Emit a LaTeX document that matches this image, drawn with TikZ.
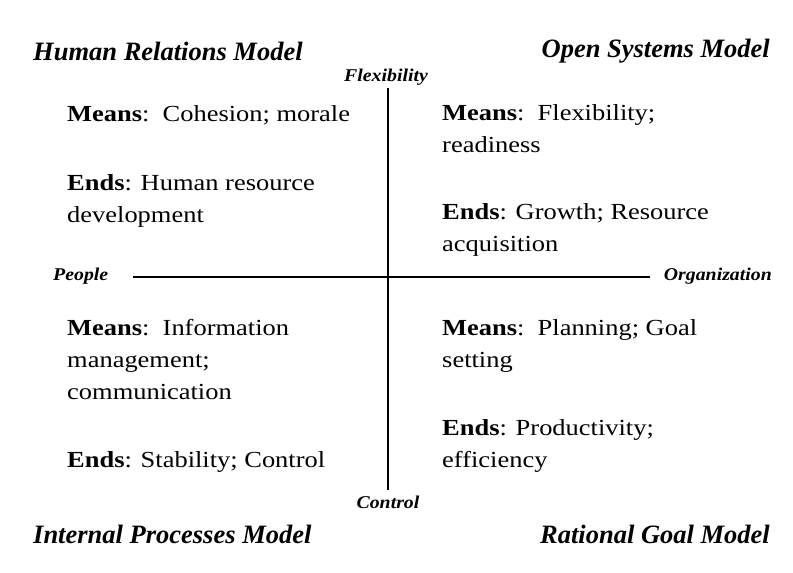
\documentclass[tikz,border=0pt]{standalone}
\usepackage{fontspec}
\setmainfont{Liberation Serif}
\begin{document}
\begin{tikzpicture}[x=1pt,y=-1pt,
  modeltitle/.style={font=\fontsize{26.5}{30}\selectfont\bfseries\itshape, inner sep=0},
  quadtext/.style={font=\fontsize{23}{32}\selectfont, align=left, inner sep=0, anchor=north west, xscale=1.15},
  axislabel/.style={font=\fontsize{18}{20}\selectfont\bfseries\itshape, inner sep=0, xscale=1.1},
  axisline/.style={line width=2.5pt}]
\useasboundingbox (0,0) rectangle (793,573);
\fill[white] (0,0) rectangle (793,573);

% quadrant titles
\node[modeltitle, anchor=base west] (hrm) at (33,60) {Human Relations Model};
\node[modeltitle, anchor=base east] (osm) at (770,57) {Open Systems Model};
\node[modeltitle, anchor=base west] (ipm) at (33,543) {Internal Processes Model};
\node[modeltitle, anchor=base east] (rgm) at (770,543) {Rational Goal Model};

% axis labels
\node[axislabel, anchor=base] (flex) at (386,81) {Flexibility};
\node[axislabel, anchor=base] (ctrl) at (388,508) {Control};
\node[axislabel, anchor=base west] (people) at (53,280) {People};
\node[axislabel, anchor=base east] (org) at (772,280) {Organization};

% axes
\coordinate (vtop) at (388,88);
\coordinate (vbot) at (388,490);
\coordinate (hleft) at (133,277);
\coordinate (hright) at (650,277);
\draw[axisline] (vtop) -- (vbot);
\draw[axisline] (hleft) -- (hright);

% quadrant texts
\node[quadtext] (tlmeans) at (67,105.3) {\textbf{Means}:\ \ Cohesion; morale};
\node[quadtext] (tlends) at (67,174.3) {\textbf{Ends}: Human resource\\development};
\node[quadtext] (trmeans) at (442,104.3) {\textbf{Means}:\ \ Flexibility;\\readiness};
\node[quadtext] (trends) at (442,203.3) {\textbf{Ends}: Growth; Resource\\acquisition};
\node[quadtext] (blmeans) at (67,319.3) {\textbf{Means}:\ \ Information\\management;\\communication};
\node[quadtext] (blends) at (67,451.3) {\textbf{Ends}: Stability; Control};
\node[quadtext] (brmeans) at (442,319.3) {\textbf{Means}:\ \ Planning; Goal\\setting};
\node[quadtext] (brends) at (442,419.3) {\textbf{Ends}: Productivity;\\efficiency};
\end{tikzpicture}
\end{document}
